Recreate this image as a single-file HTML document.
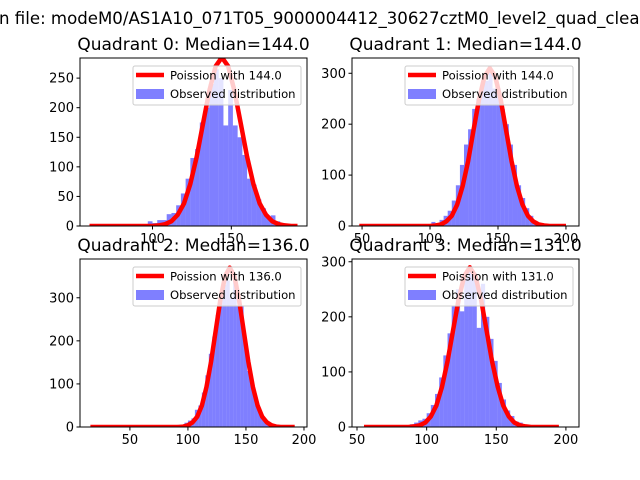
<!DOCTYPE html>
<html><head><meta charset="utf-8"><style>
body{margin:0;background:#fff;}
svg{display:block;font-family:"DejaVu Sans","Liberation Sans",sans-serif;}
</style></head><body>
<svg id="fig" width="640" height="480" viewBox="0 0 640 480" xmlns="http://www.w3.org/2000/svg">
<rect width="640" height="480" fill="#fff"/>
<text x="-1" y="24" font-size="16.6">n file: modeM0/AS1A10_071T05_9000004412_30627cztM0_level2_quad_clean.evt</text>
</svg>
<script>
// Quadrant 0
const q0Titles = "Quadrant 0: Median=144.0";
const q0BinStart = [91,94,97,100,103,106,109,112,115,118,121,124,127,130,133,136,139,142,145,148,151,154,157,160,163,166,169,172,175,178,181,184,187];
const q0Counts = [3,2,8,5,10,10,20,22,35,55,80,115,130,175,200,240,265,250,170,230,170,150,120,80,70,45,30,15,18,8,5,3,1];
const q0CurveX = [60,64,68,72,76,80,84,88,92,96,100,104,108,112,116,120,124,128,132,136,140,144,148,152,156,160,164,168,172,176,180,184,188,192];
const q0CurveY = [0,0,0,0,0,0,0,0,0,0,0,1,3,8,19,38,71,117,173,228,270,285,270,228,173,117,71,38,19,8,3,1,0,0];
const q0XTicks = [100,150];
const q0YTicks = [0,50,100,150,200,250];
// Quadrant 1
const q1BinStart = [95,98,101,104,107,110,113,116,119,122,125,128,131,134,137,140,143,146,149,152,155,158,161,164,167,170,173,176,179,182];
const q1Counts = [2,3,8,5,12,20,30,50,80,120,160,190,230,250,275,285,300,270,270,230,200,160,120,80,55,35,20,10,5,3];
const q1CurveX = [48,52,56,60,64,68,72,76,80,84,88,92,96,100,104,108,112,116,120,124,128,132,136,140,144,148,152,156,160,164,168,172,176,180,184,188,192,196,200];
const q1CurveY = [0,0,0,0,0,0,0,0,0,0,0,0,0,0,1,3,9,20,42,78,127,188,248,293,310,293,248,188,127,78,42,20,9,3,1,0,0,0,0];
const q1XTicks = [50,100,150,200];
const q1YTicks = [0,100,200,300];
// Quadrant 2
const q2BinStart = [88,91,94,97,100,103,106,109,112,115,118,121,124,127,130,133,136,139,142,145,148,151,154,157,160,163,166,169,172];
const q2Counts = [3,5,3,10,15,20,40,50,80,120,170,210,260,300,330,340,300,340,280,280,200,130,100,70,45,25,12,5,2];
const q2CurveX = [16,20,24,28,32,36,40,44,48,52,56,60,64,68,72,76,80,84,88,92,96,100,104,108,112,116,120,124,128,132,136,140,144,148,152,156,160,164,168,172,176,180,184,188,192];
const q2CurveY = [0,0,0,0,0,0,0,0,0,0,0,0,0,0,0,0,0,0,0,0,1,4,11,24,50,93,152,225,296,350,370,350,296,225,152,93,50,24,11,4,1,0,0,0,0];
const q2XTicks = [50,100,150,200];
const q2YTicks = [0,100,200,300];
// Quadrant 3
const q3BinStart = [85,88,91,94,97,100,103,106,109,112,115,118,121,124,127,130,133,136,139,142,145,148,151,154,157,160,163,166,169,172];
const q3Counts = [3,5,8,12,15,25,40,60,90,130,170,220,250,210,270,290,280,180,260,200,160,120,80,50,30,20,10,8,3,2];
const q3CurveX = [55,59,63,67,71,75,79,83,87,91,95,99,103,107,111,115,119,123,127,131,135,139,143,147,151,155,159,163,167,171,175,179,183,187,191,195];
const q3CurveY = [0,0,0,0,0,0,0,0,0,1,3,8,19,39,73,119,176,232,274,290,274,232,176,119,73,39,19,8,3,1,0,0,0,0,0,0];
const q3XTicks = [50,100,150,200];
const q3YTicks = [0,100,200,300];

const NS = "http://www.w3.org/2000/svg";
const fig = document.getElementById('fig');
function mk(tag, attrs, parent){const e=document.createElementNS(NS,tag);for(const k in attrs)e.setAttribute(k,attrs[k]);(parent||fig).appendChild(e);return e;}

function panel(idx, box, dom, title, lam, binStart, counts, binW, cx, cy, xt, yt){
  const [L,T,R,B]=box;
  const sx=v=>L+(v-dom[0])/(dom[1]-dom[0])*(R-L);
  const sy=v=>B-(v-dom[2])/(dom[3]-dom[2])*(B-T);
  const g=mk('g',{});
  
  
  const clip=mk('clipPath',{id:'c'+idx},g);
  mk('rect',{x:L,y:T,width:R-L,height:B-T},clip);
  const bars=mk('g',{'clip-path':'url(#c'+idx+')'},g);
  
  
  for(let i=0;i<counts.length;i++){
    const x0=sx(binStart[i]),x1=sx(binStart[i]+binW),y=sy(counts[i]);
    const r=mk('rect',{x:x0,y:y,width:x1-x0,height:B-y,fill:'#0000ff','fill-opacity':0.5},bars);
    
    
  }
  const pts=cx.map((v,i)=>sx(v).toFixed(1)+','+sy(cy[i]).toFixed(1)).join(' ');
  const pl=mk('polyline',{points:pts,fill:'none',stroke:'#ff0000','stroke-width':4.5,'stroke-linejoin':'round','clip-path':'url(#c'+idx+')'},g);
  
  
  const fr=mk('rect',{x:L,y:T,width:R-L,height:B-T,fill:'none',stroke:'#000','stroke-width':1},g);
  
  
  xt.forEach(v=>{const x=sx(v);mk('line',{x1:x,y1:B,x2:x,y2:B+3.5,stroke:'#000'},g);
    const t=mk('text',{x:x,y:B+17,'font-size':13,'text-anchor':'middle'},g);t.textContent=v;
    
    });
  yt.forEach(v=>{const y=sy(v);mk('line',{x1:L-3.5,y1:y,x2:L,y2:y,stroke:'#000'},g);
    const t=mk('text',{x:L-6,y:y+4.5,'font-size':13,'text-anchor':'end'},g);t.textContent=v;
    
    });
  const tt=mk('text',{x:(L+R)/2,y:T-8,'font-size':17,'text-anchor':'middle'},g);tt.textContent=title;
  
  
  const lg=mk('g',{},g);
  
  
  mk('rect',{x:R-174,y:T+8,width:168,height:39,rx:2,fill:'#fff','fill-opacity':0.8,stroke:'#ccc'},lg);
  mk('line',{x1:R-171,y1:T+17,x2:R-143,y2:T+17,stroke:'#ff0000','stroke-width':4.5},lg);
  mk('rect',{x:R-171,y:T+31,width:28,height:10,fill:'#0000ff','fill-opacity':0.5},lg);
  const l1=mk('text',{x:R-137,y:T+21.5,'font-size':11.6},lg);l1.textContent='Poission with '+lam;
  
  
  const l2=mk('text',{x:R-137,y:T+40,'font-size':11.6},lg);l2.textContent='Observed distribution';
  
  
}
panel(0,[80,58,307,226],[54,198,0,284],q0Titles,'144.0',q0BinStart,q0Counts,3,q0CurveX,q0CurveY,q0XTicks,q0YTicks);
panel(1,[352,58,579,226],[42.6,209.6,0,330],'Quadrant 1: Median=144.0','144.0',q1BinStart,q1Counts,3,q1CurveX,q1CurveY,q1XTicks,q1YTicks);
panel(2,[80,259,307,427],[7,202.6,0,390],'Quadrant 2: Median=136.0','136.0',q2BinStart,q2Counts,3,q2CurveX,q2CurveY,q2XTicks,q2YTicks);
panel(3,[352,259,579,427],[46.4,209.4,0,305],'Quadrant 3: Median=131.0','131.0',q3BinStart,q3Counts,3,q3CurveX,q3CurveY,q3XTicks,q3YTicks);
</script>
</body></html>
